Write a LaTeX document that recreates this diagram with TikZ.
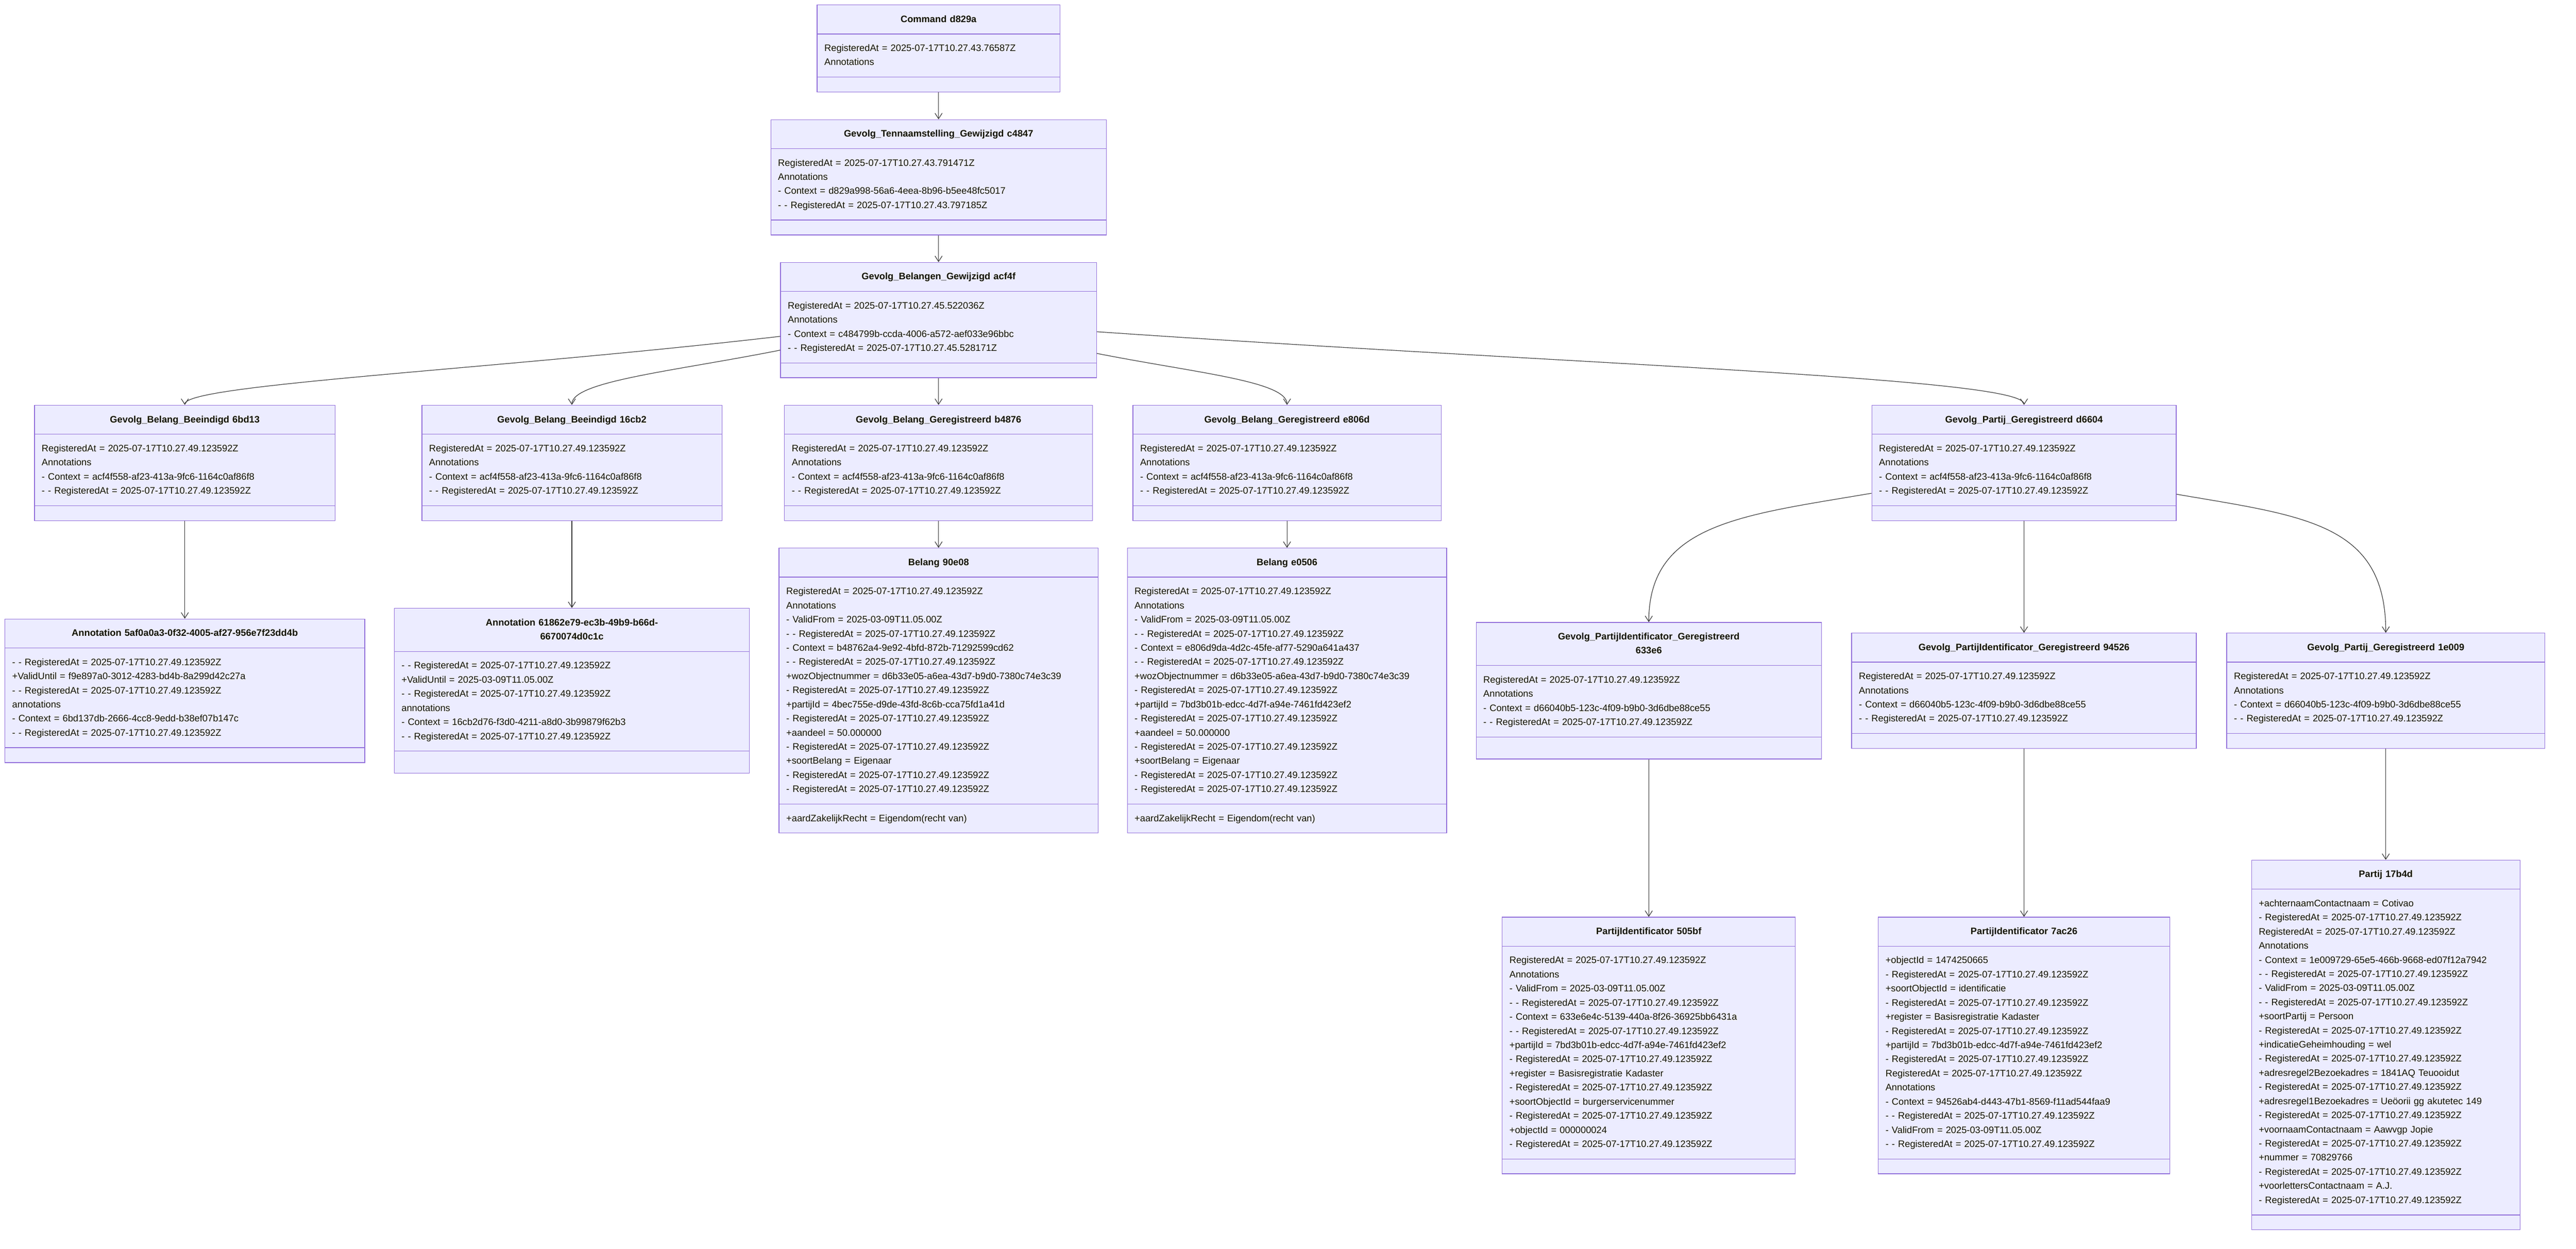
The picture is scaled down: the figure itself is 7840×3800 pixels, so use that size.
\documentclass[tikz,border=0pt]{standalone}
\usepackage{fontspec}
\setmainfont{Liberation Sans}
\usetikzlibrary{shapes.multipart,calc,arrows.meta}
\definecolor{classfill}{HTML}{ECECFF}
\definecolor{classborder}{HTML}{9370DB}
\definecolor{classtext}{HTML}{131300}
\definecolor{linkcolor}{HTML}{333333}
\tikzstyle{class diagram}=[
    x=0.25pt, y=-0.25pt,
    >={Straight Barb[length=4.25pt,width=5.5pt]},
    link/.style={->, draw=linkcolor, line width=0.45pt},
    every edge/.style={link},
    umlclass/.style={
        rectangle split, rectangle split parts=3,
        rectangle split empty part height=0pt,
        draw=classborder, fill=classfill, line width=0.5pt,
        text=classtext, align=left, anchor=north,
        inner xsep=5.5pt, inner ysep=5.417pt,
        font=\fontsize{7.167pt}{10.75pt}\selectfont,
}]
\newcommand{\classlabel}[3]{{\bfseries\centering\strut#1\strut\par}\nodepart{two}\strut#2\strut\nodepart{three}#3}
\newcommand{\regat}{RegisteredAt = 2025-07-17T10.27.49.123592Z}
\newcommand{\gevolgattrs}{\regat\\Annotations\\- Context = acf4f558-af23-413a-9fc6-1164c0af86f8\\- - \regat}
\newcommand{\partijattrs}{\regat\\Annotations\\- Context = d66040b5-123c-4f09-b9b0-3d6dbe88ce55\\- - \regat}

\begin{document}
\begin{tikzpicture}[class diagram]
    \fill[white] (0,0) rectangle (7840,3800);
    \useasboundingbox (0,0) rectangle (7840,3800);

    % command and the two events above the fan-out
    \node[umlclass, text width=173.75pt] (cmd) at (2856.5,14) {\classlabel{Command d829a}{RegisteredAt = 2025-07-17T10.27.43.76587Z\\Annotations}{}};
    \node[umlclass, text width=244.25pt] (tnm) at (2856.5,363) {\classlabel{Gevolg\_Tennaamstelling\_Gewijzigd c4847}{RegisteredAt = 2025-07-17T10.27.43.791471Z\\Annotations\\- Context = d829a998-56a6-4eea-8b96-b5ee48fc5017\\- - RegisteredAt = 2025-07-17T10.27.43.797185Z}{}};
    \node[umlclass, text width=229.4pt] (blg) at (2856.5,797.5) {\classlabel{Gevolg\_Belangen\_Gewijzigd acf4f}{RegisteredAt = 2025-07-17T10.27.45.522036Z\\Annotations\\- Context = c484799b-ccda-4006-a572-aef033e96bbc\\- - RegisteredAt = 2025-07-17T10.27.45.528171Z}{}};

    % second row
    \node[umlclass, text width=217.75pt] (be1) at (562.5,1232) {\classlabel{Gevolg\_Belang\_Beeindigd 6bd13}{\gevolgattrs}{}};
    \node[umlclass, text width=217.25pt] (be2) at (1740.5,1232) {\classlabel{Gevolg\_Belang\_Beeindigd 16cb2}{\gevolgattrs}{}};
    \node[umlclass, text width=223.4pt] (bg1) at (2856.5,1232) {\classlabel{Gevolg\_Belang\_Geregistreerd b4876}{\gevolgattrs}{}};
    \node[umlclass, text width=223.5pt] (bg2) at (3917,1232) {\classlabel{Gevolg\_Belang\_Geregistreerd e806d}{\gevolgattrs}{}};
    \node[umlclass, text width=220.6pt] (pg) at (6160,1232) {\classlabel{Gevolg\_Partij\_Geregistreerd d6604}{\gevolgattrs}{}};

    % third row
    \node[umlclass, text width=262.75pt] (an1) at (562.5,1882.5) {\classlabel{Annotation 5af0a0a3-0f32-4005-af27-956e7f23dd4b}{- - \regat\\+ValidUntil = f9e897a0-3012-4283-bd4b-8a299d42c27a\\- - \regat\\annotations\\- Context = 6bd137db-2666-4cc8-9edd-b38ef07b147c\\- - \regat}{}};
    \node[umlclass, text width=259.25pt] (an2) at (1740.5,1850) {\classlabel{Annotation 61862e79-ec3b-49b9-b66d-\\6670074d0c1c}{- - \regat\\+ValidUntil = 2025-03-09T11.05.00Z\\- - \regat\\annotations\\- Context = 16cb2d76-f3d0-4211-a8d0-3b99879f62b3\\- - \regat}{\rule{0pt}{5.375pt}}};
    \node[umlclass, text width=231.75pt] (bl1) at (2856.5,1667) {\classlabel{Belang 90e08}{\regat\\Annotations\\- ValidFrom = 2025-03-09T11.05.00Z\\- - \regat\\- Context = b48762a4-9e92-4bfd-872b-71292599cd62\\- - \regat\\+wozObjectnummer = d6b33e05-a6ea-43d7-b9d0-7380c74e3c39\\- \regat\\+partijId = 4bec755e-d9de-43fd-8c6b-cca75fd1a41d\\- \regat\\+aandeel = 50.000000\\- \regat\\+soortBelang = Eigenaar\\- \regat\\- \regat}{\strut+aardZakelijkRecht = Eigendom(recht van)\strut}};
    \node[umlclass, text width=232pt] (bl2) at (3917,1667) {\classlabel{Belang e0506}{\regat\\Annotations\\- ValidFrom = 2025-03-09T11.05.00Z\\- - \regat\\- Context = e806d9da-4d2c-45fe-af77-5290a641a437\\- - \regat\\+wozObjectnummer = d6b33e05-a6ea-43d7-b9d0-7380c74e3c39\\- \regat\\+partijId = 7bd3b01b-edcc-4d7f-a94e-7461fd423ef2\\- \regat\\+aandeel = 50.000000\\- \regat\\+soortBelang = Eigenaar\\- \regat\\- \regat}{\strut+aardZakelijkRecht = Eigendom(recht van)\strut}};
    \node[umlclass, text width=251.75pt] (pi1) at (5018,1893) {\classlabel{Gevolg\_PartijIdentificator\_Geregistreerd\\633e6}{\partijattrs}{\rule{0pt}{5.375pt}}};
    \node[umlclass, text width=251.25pt] (pi2) at (6160,1925.5) {\classlabel{Gevolg\_PartijIdentificator\_Geregistreerd 94526}{\partijattrs}{}};
    \node[umlclass, text width=231pt] (pp) at (7261,1925.5) {\classlabel{Gevolg\_Partij\_Geregistreerd 1e009}{\partijattrs}{}};

    % fourth row
    \node[umlclass, text width=212pt] (id1) at (5018,2790) {\classlabel{PartijIdentificator 505bf}{\regat\\Annotations\\- ValidFrom = 2025-03-09T11.05.00Z\\- - \regat\\- Context = 633e6e4c-5139-440a-8f26-36925bb6431a\\- - \regat\\+partijId = 7bd3b01b-edcc-4d7f-a94e-7461fd423ef2\\- \regat\\+register = Basisregistratie Kadaster\\- \regat\\+soortObjectId = burgerservicenummer\\- \regat\\+objectId = 000000024\\- \regat}{}};
    \node[umlclass, text width=210.75pt] (id2) at (6160,2790) {\classlabel{PartijIdentificator 7ac26}{+objectId = 1474250665\\- \regat\\+soortObjectId = identificatie\\- \regat\\+register = Basisregistratie Kadaster\\- \regat\\+partijId = 7bd3b01b-edcc-4d7f-a94e-7461fd423ef2\\- \regat\\\regat\\Annotations\\- Context = 94526ab4-d443-47b1-8569-f11ad544faa9\\- - \regat\\- ValidFrom = 2025-03-09T11.05.00Z\\- - \regat}{}};
    \node[umlclass, text width=193.25pt] (par) at (7261,2616.5) {\classlabel{Partij 17b4d}{+achternaamContactnaam = Cotivao\\- \regat\\\regat\\Annotations\\- Context = 1e009729-65e5-466b-9668-ed07f12a7942\\- - \regat\\- ValidFrom = 2025-03-09T11.05.00Z\\- - \regat\\+soortPartij = Persoon\\- \regat\\+indicatieGeheimhouding = wel\\- \regat\\+adresregel2Bezoekadres = 1841AQ Teuooidut\\- \regat\\+adresregel1Bezoekadres = Ueöorii gg akutetec 149\\- \regat\\+voornaamContactnaam = Aawvgp Jopie\\- \regat\\+nummer = 70829766\\- \regat\\+voorlettersContactnaam = A.J.\\- \regat}{}};

    \path
        (cmd.south) edge (tnm.north)
        (tnm.south) edge (blg.north)
        (blg.south) edge (bg1.north)
        (bg1.south) edge (bl1.north)
        (bg2.south) edge (bl2.north)
        (be1.south) edge (an1.north)
        (be2.south) edge (an2.north)
        (pg.south) edge (pi2.north)
        (pi1.south) edge (id1.north)
        (pi2.south) edge (id2.north)
        (pp.south) edge (par.north)
    ;
    \draw[link] ($(blg.south west)+(0,-127)$) .. controls (1500,1125) and (562.5,1170) .. (be1.north);
    \draw[link] ($(blg.south west)+(0,-85)$) .. controls (2050,1130) and (1740.5,1160) .. (be2.north);
    \draw[link] ($(blg.south east)+(0,-75)$) .. controls (3640,1135) and (3917,1160) .. (bg2.north);
    \draw[link] ($(blg.south east)+(0,-141)$) .. controls (4800,1110) and (6160,1150) .. (pg.north);
    \draw[link] ($(pg.south west)+(0,-84)$) .. controls (5304,1568) and (5018,1592) .. (pi1.north);
    \draw[link] ($(pg.south east)+(0,-81)$) .. controls (7015,1571) and (7261,1592) .. (pp.north);
\end{tikzpicture}
\end{document}
